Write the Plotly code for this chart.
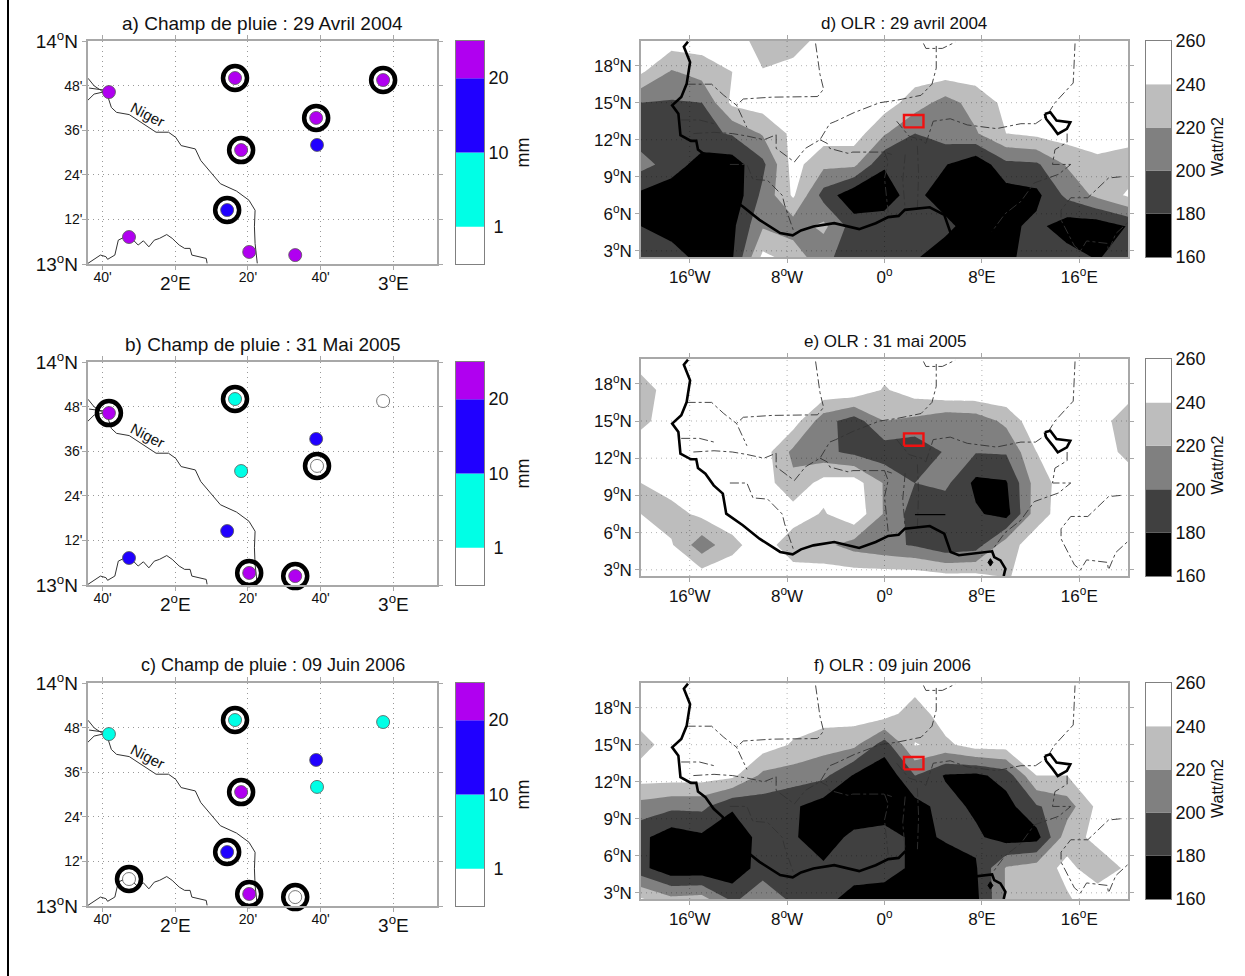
import plotly.graph_objects as go

W, H = 1245, 976
FONT = "Liberation Sans"

# ---------- data ----------
station_lon = [1.696, 2.274, 2.953, 2.646, 2.650, 2.302, 2.238, 1.788, 2.339, 2.550]
station_lat = [13.771, 13.834, 13.825, 13.655, 13.534, 13.511, 13.242, 13.121, 13.054, 13.040]
rain_a = [25, 25, 25, 25, 15, 25, 15, 25, 25, 25]
rain_b = [25, 5, 0.5, 15, 0.5, 5, 15, 15, 25, 25]
rain_c = [5, 5, 5, 15, 5, 25, 15, 0.5, 25, 0.5]
ring_a = [0, 1, 1, 1, 0, 1, 1, 0, 0, 0]
ring_b = [1, 1, 0, 0, 1, 0, 0, 0, 1, 1]
ring_c = [0, 1, 0, 0, 0, 1, 1, 1, 1, 1]

niger_lon = [1.600, 1.628, 1.657, 1.690, 1.707, 1.731, 1.789, 1.830, 1.871, 1.912, 1.969, 2.002, 2.027, 2.092, 2.117, 2.166, 2.207, 2.281, 2.338, 2.366, 2.363, 2.366, 2.376]
niger_lat = [13.833, 13.799, 13.780, 13.754, 13.702, 13.680, 13.670, 13.643, 13.616, 13.591, 13.591, 13.568, 13.531, 13.516, 13.464, 13.405, 13.360, 13.327, 13.286, 13.241, 13.167, 13.092, 13.003]
branch1_lon = [1.605, 1.674]
branch1_lat = [13.789, 13.780]
branch2_lon = [1.600, 1.628, 1.682]
branch2_lat = [13.735, 13.762, 13.774]
border_lon = [1.600, 1.633, 1.657, 1.682, 1.690, 1.723, 1.739, 1.764, 1.805, 1.830, 1.854, 1.879, 1.904, 1.928, 1.961, 1.986, 2.018, 2.043, 2.068, 2.076, 2.109, 2.142, 2.146]
border_lat = [13.003, 13.025, 13.040, 13.033, 13.021, 13.040, 13.107, 13.119, 13.110, 13.085, 13.104, 13.077, 13.107, 13.115, 13.132, 13.115, 13.085, 13.070, 13.070, 13.040, 13.033, 13.025, 13.003]

rain_colors = ["#ffffff", "#00ffe6", "#2000ff", "#b000f0"]
rain_heights = [0.5, 1, 1, 0.5]
rain_ticks = [1, 2, 3]
rain_ticktext = ["\u00a01", "10", "20"]

olr_lon = [-20, -17.5, -15, -12.5, -10, -7.5, -5, -2.5, 0, 2.5, 5, 7.5, 10, 12.5, 15, 17.5, 20]
olr_lat = [2.5, 5, 7.5, 10, 12.5, 15, 17.5, 20]
olr_d = [
    [190, 190, 172, 178, 245, 232, 205, 190, 190, 182, 170, 170, 175, 190, 188, 178, 192],
    [180, 170, 165, 175, 218, 210, 225, 190, 185, 185, 185, 170, 175, 185, 170, 168, 181],
    [175, 165, 165, 165, 205, 243, 192, 165, 175, 185, 170, 165, 170, 175, 205, 225, 243],
    [207, 192, 170, 170, 195, 248, 225, 225, 181, 190, 181, 165, 195, 197, 222, 235, 228],
    [190, 190, 195, 202, 222, 245, 250, 250, 222, 200, 210, 218, 240, 245, 250, 250, 250],
    [200, 198, 200, 245, 250, 250, 250, 250, 250, 230, 212, 228, 245, 250, 250, 250, 250],
    [243, 218, 228, 240, 241, 250, 250, 250, 250, 250, 250, 250, 250, 250, 250, 250, 250],
    [250, 250, 250, 250, 232, 228, 250, 250, 250, 250, 250, 250, 250, 250, 250, 250, 250],
]
olr_e = [
    [250, 250, 250, 250, 250, 250, 250, 250, 250, 250, 245, 245, 238, 250, 250, 250, 250],
    [250, 242, 208, 235, 250, 228, 225, 212, 205, 198, 185, 190, 232, 250, 250, 250, 250],
    [240, 232, 245, 250, 250, 250, 238, 255, 218, 190, 185, 183, 172, 232, 250, 250, 250],
    [240, 250, 250, 250, 250, 225, 248, 250, 218, 200, 205, 175, 178, 230, 250, 250, 250],
    [250, 250, 250, 250, 250, 215, 205, 195, 188, 185, 202, 201, 202, 240, 250, 250, 235],
    [236, 248, 250, 250, 250, 250, 208, 190, 220, 215, 205, 208, 225, 255, 250, 250, 228],
    [230, 250, 250, 250, 250, 250, 255, 255, 238, 250, 258, 258, 258, 250, 250, 250, 250],
    [250, 250, 250, 250, 250, 250, 250, 250, 250, 250, 250, 250, 250, 250, 250, 250, 250],
]
olr_f = [
    [242, 225, 228, 195, 215, 195, 190, 168, 168, 168, 168, 175, 222, 230, 238, 250, 250],
    [186, 165, 165, 165, 190, 190, 183, 195, 190, 175, 170, 178, 222, 230, 245, 230, 243],
    [185, 168, 176, 165, 188, 182, 170, 185, 190, 175, 182, 184, 170, 172, 232, 245, 250],
    [212, 205, 205, 183, 190, 183, 170, 165, 165, 172, 188, 176, 172, 198, 210, 245, 250],
    [250, 250, 250, 245, 215, 210, 205, 178, 165, 200, 178, 175, 188, 240, 240, 250, 250],
    [232, 250, 250, 245, 250, 238, 228, 225, 190, 241, 235, 250, 250, 250, 250, 250, 250],
    [250, 250, 250, 250, 250, 250, 250, 250, 250, 228, 252, 250, 250, 250, 250, 250, 250],
    [250, 250, 250, 250, 250, 250, 250, 250, 250, 250, 250, 250, 250, 250, 250, 250, 250],
]
olr_levels = [160, 180, 200, 220, 240, 260]
olr_colors = ["#000000", "#404040", "#808080", "#bdbdbd", "#ffffff"]

coast_lon = [-16.14, -16.48, -15.97, -16.25, -16.69, -17.44, -16.93, -16.76, -15.90, -15.46, -15.32, -14.71, -14.03, -13.28, -13.00, -11.64, -10.27, -8.57, -7.54, -6.86, -5.84, -4.13, -2.08, -0.72, 0.31, 1.16, 1.67, 3.72, 4.91, 5.43, 6.11, 8.84, 9.01, 9.52, 9.93, 9.79]
coast_lat = [19.95, 19.54, 18.28, 16.53, 15.46, 14.79, 14.11, 12.37, 11.91, 11.91, 11.21, 10.75, 9.81, 9.14, 7.53, 6.59, 5.51, 4.44, 4.25, 4.65, 4.97, 5.24, 4.76, 5.24, 5.73, 5.83, 6.32, 6.53, 5.91, 4.44, 4.17, 4.49, 4.03, 3.76, 3.09, 2.5]
chad_lon = [13.17, 13.62, 14.13, 15.26, 14.98, 14.23, 13.79, 13.28, 13.17]
chad_lat = [14.09, 14.22, 13.55, 13.41, 12.88, 12.47, 13.06, 13.68, 14.09]
bioko_lon = [8.7, 8.9, 8.7, 8.5, 8.7]
bioko_lat = [3.9, 3.6, 3.3, 3.6, 3.9]
box_lon = [1.6, 3.2, 3.2, 1.6, 1.6]
box_lat = [13, 13, 14, 14, 13]
borders = [
    ([-5.66, -5.3, -5, -5.5, -9.25, -11.6, -12.15, -11.3], [19.8, 17.3, 16.1, 15.5, 15.45, 15.3, 14.8, 13]),
    ([-16.25, -14.2, -13.2, -12.15], [16.5, 16.5, 15.6, 14.8]),
    ([-16.7, -15.2, -14], [13.6, 13.6, 13.3]),
    ([-15.7, -14, -12.5, -11.3, -9.9, -8.9], [12.5, 12.6, 12.5, 12.3, 12, 12.4]),
    ([-12.7, -11.3, -10.8, -9.6, -8.4, -8.2, -7.5], [10, 10, 8.8, 8.7, 7.5, 6.7, 4.7]),
    ([-8.9, -8.9, -7.4, -6.5, -5.3, -4.5, -4, -2.5, -0.4, 1, 3, 3.9, 4.25, 4.25], [12.4, 11.3, 10.2, 11.3, 12, 13.3, 13.5, 14.2, 15, 15.2, 15.6, 16.5, 17.8, 19.6]),
    ([3.2, 3.4, 4.75, 5.8], [19.8, 19.4, 19.4, 19.9]),
    ([-5.3, -4.7, -4.5, -3, -2.6, 0, 0.6], [12, 11.7, 11.3, 10.9, 11, 11, 10.8]),
    ([0, 0.3, 0, 0.3], [11, 10.2, 8.9, 6.1]),
    ([1.7, 1.5, 1.7], [10.8, 8.7, 6.3]),
    ([2.7, 2.8, 2.7], [11.5, 9.2, 6.4]),
    ([1, 2, 3, 3.4], [13.5, 12.3, 12, 11.7]),
    ([3.4, 4, 5.4, 6.8, 9.2, 11.2, 12.4, 13.3, 14, 15.5, 15.65], [11.7, 13.5, 13.7, 13.2, 12.9, 13.3, 13.3, 13.9, 15, 16.6, 19.8]),
    ([15, 15, 14, 13.8, 15.3, 14.3, 12.3, 11.2, 9.9, 8.7], [12.5, 11.8, 11.2, 10, 10, 9.2, 8.5, 7, 6, 4.4]),
    ([19.4, 18.4, 16.7, 15.3, 14.5, 14.5, 15.6, 16.1, 16.6, 18.3, 18.4, 19, 20], [9, 8.9, 7.3, 7.3, 6.3, 5.5, 3.4, 3, 3.8, 3.6, 3, 4.4, 5.3]),
]
e_segment_lon = [2.5, 5]
e_segment_lat = [7.45, 7.45]

minor_xticks = [1 + 2 / 3, 2 + 1 / 3, 2 + 2 / 3]
minor_xtext = ["40'", "20'", "40'"]
major_xticks = [2, 3]
major_xtext = ["2<sup>o</sup>E", "3<sup>o</sup>E"]
minor_yticks = [13.2, 13.4, 13.6, 13.8]
minor_ytext = ["12'", "24'", "36'", "48'"]
major_yticks = [13, 14]
major_ytext = ["13<sup>o</sup>N", "14<sup>o</sup>N"]
olr_xticks = [-16, -8, 0, 8, 16]
olr_xtext = ["16<sup>o</sup>W", "8<sup>o</sup>W", "0<sup>o</sup>", "8<sup>o</sup>E", "16<sup>o</sup>E"]
olr_yticks = [3, 6, 9, 12, 15, 18]
olr_ytext = ["3<sup>o</sup>N", "6<sup>o</sup>N", "9<sup>o</sup>N", "12<sup>o</sup>N", "15<sup>o</sup>N", "18<sup>o</sup>N"]

# ---------- layout helpers ----------
fig = go.Figure()
layout = {}
axis_count = [0]
FRAME = "#a8a8a8"
GRID = "1px,4px"


def dom_x(a, b):
    return [a / W, b / W]


def dom_y(top, bottom):
    return [1 - bottom / H, 1 - top / H]


def add_axes(xr, yr, x0, x1, y0, y1, **kw):
    axis_count[0] += 1
    n = axis_count[0]
    base = dict(showline=True, linecolor=FRAME, linewidth=1.5, mirror="allticks", ticks="outside", ticklen=4,
                tickcolor=FRAME, zeroline=False, showgrid=True, gridcolor="#999999", griddash=GRID, gridwidth=1,
                tickfont=dict(family=FONT, size=14, color="#111"))
    xa = dict(base, domain=dom_x(x0, x1), range=xr, anchor=f"y{n}")
    ya = dict(base, domain=dom_y(y0, y1), range=yr, anchor=f"x{n}")
    xa.update(kw.get("x", {}))
    ya.update(kw.get("y", {}))
    layout[f"xaxis{n}"] = xa
    layout[f"yaxis{n}"] = ya
    return f"x{n}", f"y{n}"


def add_line(xa, ya, lon, lat, color="#333", width=1.0, dash=None):
    fig.add_trace(go.Scatter(x=lon, y=lat, xaxis=xa, yaxis=ya, mode="lines", hoverinfo="skip",
                             line=dict(color=color, width=width, dash=dash), showlegend=False))


def add_colorbar(x0, x1, y0, y1, bases, heights, colors, ticks, ticktext, yr):
    xa, ya = add_axes([0, 1], yr, x0, x1, y0, y1,
                      x=dict(showticklabels=False, ticks="", showgrid=False, mirror=True, linecolor="#808080", linewidth=1),
                      y=dict(side="right", tickvals=ticks, ticktext=ticktext, showgrid=False, mirror=True,
                             linecolor="#808080", linewidth=1, ticks="", tickfont=dict(family=FONT, size=18, color="#111")))
    for b, h, c in zip(bases, heights, colors):
        fig.add_trace(go.Bar(x=[0.5], y=[h], base=[b], width=[1], xaxis=xa, yaxis=ya, marker=dict(color=c, line=dict(width=0)),
                             hoverinfo="skip", showlegend=False))


def rain_color(v):
    for lim, c in zip([1, 10, 20, 1e9], rain_colors):
        if v < lim:
            return c


annotations = []


def text(x, y, s, size=17, angle=0, anchor="center"):
    annotations.append(dict(x=x / W, y=1 - y / H, xref="paper", yref="paper", text=s, showarrow=False,
                            textangle=angle, xanchor=anchor, yanchor="middle",
                            font=dict(family=FONT, size=size, color="#111")))


def rain_panel(y0, y1, rain, ring, title, tx, ty, tsize):
    xa, ya = add_axes([1.6, 3.2], [13, 14], 88, 437, y0, y1,
                      x=dict(tickvals=minor_xticks + major_xticks, ticktext=minor_xtext + ["", ""], ticklabelstandoff=-5),
                      y=dict(tickvals=minor_yticks + major_yticks, ticktext=minor_ytext + ["", ""], ticklabelstandoff=-3))
    add_line(xa, ya, niger_lon, niger_lat)
    add_line(xa, ya, branch1_lon, branch1_lat)
    add_line(xa, ya, branch2_lon, branch2_lat)
    add_line(xa, ya, border_lon, border_lat)
    rlon = [a for a, r in zip(station_lon, ring) if r]
    rlat = [a for a, r in zip(station_lat, ring) if r]
    fig.add_trace(go.Scatter(x=rlon, y=rlat, xaxis=xa, yaxis=ya, mode="markers", hoverinfo="skip", showlegend=False,
                             cliponaxis=False,
                             marker=dict(symbol="circle-open", size=24, color="black", line=dict(color="black", width=4.5))))
    fig.add_trace(go.Scatter(x=station_lon, y=station_lat, xaxis=xa, yaxis=ya, mode="markers", hoverinfo="skip",
                             showlegend=False, cliponaxis=False,
                             marker=dict(size=13, color=[rain_color(v) for v in rain], line=dict(color="#555", width=0.8))))
    annotations.append(dict(x=1.875, y=13.672, xref=xa, yref=ya, text="Niger", showarrow=False, textangle=27,
                            font=dict(family=FONT, size=15, color="#111")))
    # second pair of axes on the same box: the large degree labels
    big = dict(family=FONT, size=19, color="#111")
    oa, ob = add_axes([1.6, 3.2], [13, 14], 88, 437, y0, y1,
                      x=dict(overlaying=xa, tickvals=major_xticks, ticktext=major_xtext, tickfont=big, ticks="",
                             showline=False, showgrid=False, ticklabelstandoff=6),
                      y=dict(overlaying=ya, tickvals=major_yticks, ticktext=major_ytext, tickfont=big, ticks="",
                             showline=False, showgrid=False, ticklabelstandoff=9))
    fig.add_trace(go.Scatter(x=[], y=[], xaxis=oa, yaxis=ob, mode="lines", hoverinfo="skip", showlegend=False))
    text(tx, ty, title, size=tsize)
    bases = [0.5, 1, 2, 3]
    add_colorbar(456, 484, y0, y1, bases, rain_heights, rain_colors, rain_ticks, rain_ticktext, [0.5, 3.5])
    text(522, (y0 + y1) / 2, "mm", angle=-90, size=18)


def olr_panel(y0, y1, z, title, tx, ty, extra=False):
    xa, ya = add_axes([-20, 20], [2.5, 20], 641, 1128, y0, y1,
                      x=dict(tickvals=olr_xticks, ticktext=olr_xtext, tickfont=dict(family=FONT, size=17, color="#111")),
                      y=dict(tickvals=olr_yticks, ticktext=olr_ytext, tickfont=dict(family=FONT, size=17, color="#111")))
    scale = []
    for i, c in enumerate(olr_colors):
        scale += [[i / 5, c], [(i + 1) / 5, c]]
    fig.add_trace(go.Contour(x=olr_lon, y=olr_lat, z=z, xaxis=xa, yaxis=ya, zmin=160, zmax=260, autocontour=False,
                             contours=dict(start=160, end=260, size=20, coloring="fill", showlines=False),
                             line=dict(width=0, smoothing=0), colorscale=scale, showscale=False, hoverinfo="skip"))
    for t in olr_xticks:
        add_line(xa, ya, [t, t], [2.5, 20], color="rgba(0,0,0,0.3)", width=1, dash=GRID)
    for t in olr_yticks:
        add_line(xa, ya, [-20, 20], [t, t], color="rgba(0,0,0,0.3)", width=1, dash=GRID)
    for blon, blat in borders:
        add_line(xa, ya, blon, blat, color="#333", width=0.9, dash="dashdot")
    add_line(xa, ya, coast_lon, coast_lat, color="black", width=2.6)
    add_line(xa, ya, chad_lon, chad_lat, color="black", width=2.6)
    fig.add_trace(go.Scatter(x=bioko_lon, y=bioko_lat, xaxis=xa, yaxis=ya, mode="lines", fill="toself", fillcolor="black",
                             line=dict(color="black", width=1), hoverinfo="skip", showlegend=False))
    add_line(xa, ya, box_lon, box_lat, color="#f01010", width=2.4)
    if extra:
        add_line(xa, ya, e_segment_lon, e_segment_lat, color="black", width=1.2)
    text(tx, ty, title)
    add_colorbar(1146, 1171, y0, y1, olr_levels[:-1], [20] * 5, olr_colors, olr_levels,
                 [str(v) for v in olr_levels], [160, 260])
    text(1217, (y0 + y1) / 2 - 2, "Watt/m2", angle=-90, size=16)


rain_panel(41, 264, rain_a, ring_a, "a) Champ de pluie : 29 Avril 2004", 262, 23, 19)
rain_panel(362, 585, rain_b, ring_b, "b) Champ de pluie : 31 Mai 2005", 263, 344, 19)
rain_panel(683, 906, rain_c, ring_c, "c) Champ de pluie : 09 Juin 2006", 273, 665, 18)
olr_panel(41, 257, olr_d, "d) OLR : 29 avril 2004", 904, 23)
olr_panel(359, 576, olr_e, "e) OLR : 31 mai 2005", 885, 341, extra=True)
olr_panel(683, 899, olr_f, "f) OLR : 09 juin 2006", 892, 665)

fig.update_layout(width=W, height=H, margin=dict(l=0, r=0, t=0, b=0, autoexpand=False), paper_bgcolor="white", plot_bgcolor="white",
                  barmode="overlay", showlegend=False, annotations=annotations,
                  shapes=[dict(type="line", xref="paper", yref="paper", x0=8 / W, x1=8 / W, y0=0, y1=1,
                               line=dict(color="black", width=2))],
                  **layout)
fig.write_html("out.html", config=dict(displayModeBar=False),
               post_script="document.body.style.margin='0';document.body.style.overflow='hidden';")
